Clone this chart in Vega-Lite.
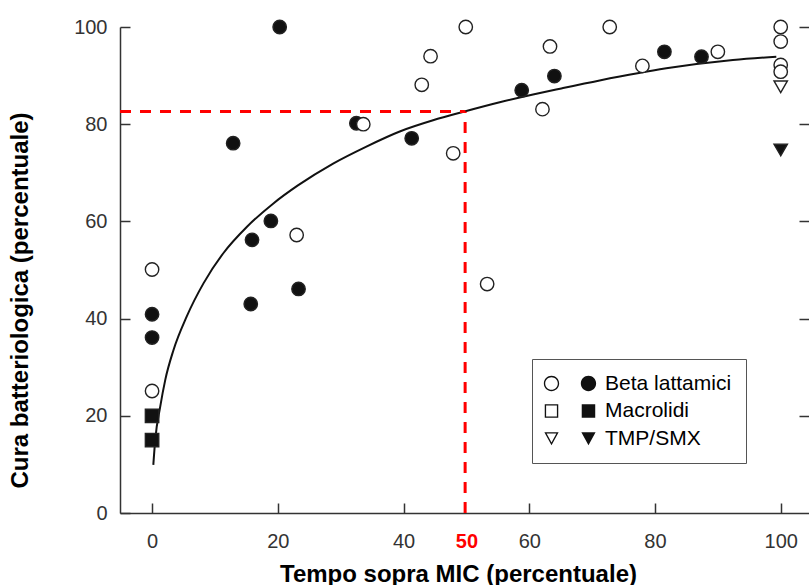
{
  "$schema": "https://vega.github.io/schema/vega-lite/v6.json",
  "width": 689,
  "height": 486,
  "autosize": {"type": "none"},
  "padding": {"left": 120, "top": 27, "right": 0, "bottom": 72},
  "background": "white",
  "config": {"view": {"stroke": null}, "font": "Liberation Sans"},
  "datasets": {
    "curva": [
      {"x": 0.2, "y": 9.9}, {"x": 0.5, "y": 15.0}, {"x": 1.3, "y": 21.9}, {"x": 2.1, "y": 27.4},
      {"x": 3.4, "y": 33.5}, {"x": 5.5, "y": 40.4}, {"x": 8.2, "y": 47.3}, {"x": 11.3, "y": 53.4},
      {"x": 15.1, "y": 58.9}, {"x": 19.3, "y": 63.7}, {"x": 23.2, "y": 67.4}, {"x": 28.8, "y": 71.9},
      {"x": 34.1, "y": 75.4}, {"x": 39.4, "y": 78.5}, {"x": 44.7, "y": 80.8}, {"x": 49.7, "y": 82.6},
      {"x": 55.3, "y": 84.5}, {"x": 60.6, "y": 86.1}, {"x": 64.9, "y": 87.3}, {"x": 71.2, "y": 89.0},
      {"x": 81.8, "y": 91.5}, {"x": 92.4, "y": 93.2}, {"x": 99.3, "y": 93.9}
    ],
    "linee": [
      {"x": -5.1, "x2": 49.8, "y": 82.6, "y2": 82.6},
      {"x": 49.8, "x2": 49.8, "y": 0, "y2": 82.6}
    ],
    "punti": [
      {"x": 0, "y": 40.9, "classe": "Beta lattamici", "tipo": "pieno"},
      {"x": 0, "y": 36.1, "classe": "Beta lattamici", "tipo": "pieno"},
      {"x": 12.9, "y": 76.1, "classe": "Beta lattamici", "tipo": "pieno"},
      {"x": 15.7, "y": 43.0, "classe": "Beta lattamici", "tipo": "pieno"},
      {"x": 15.9, "y": 56.2, "classe": "Beta lattamici", "tipo": "pieno"},
      {"x": 18.9, "y": 60.1, "classe": "Beta lattamici", "tipo": "pieno"},
      {"x": 20.3, "y": 100, "classe": "Beta lattamici", "tipo": "pieno"},
      {"x": 23.3, "y": 46.1, "classe": "Beta lattamici", "tipo": "pieno"},
      {"x": 32.5, "y": 80.2, "classe": "Beta lattamici", "tipo": "pieno"},
      {"x": 41.3, "y": 77.1, "classe": "Beta lattamici", "tipo": "pieno"},
      {"x": 58.8, "y": 87.0, "classe": "Beta lattamici", "tipo": "pieno"},
      {"x": 64.0, "y": 89.9, "classe": "Beta lattamici", "tipo": "pieno"},
      {"x": 81.5, "y": 94.9, "classe": "Beta lattamici", "tipo": "pieno"},
      {"x": 87.4, "y": 93.9, "classe": "Beta lattamici", "tipo": "pieno"},
      {"x": 0, "y": 20.0, "classe": "Macrolidi", "tipo": "pieno"},
      {"x": 0, "y": 15.0, "classe": "Macrolidi", "tipo": "pieno"},
      {"x": 100, "y": 74.7, "classe": "TMP/SMX", "tipo": "pieno"},
      {"x": 0, "y": 50.1, "classe": "Beta lattamici", "tipo": "aperto"},
      {"x": 0, "y": 25.1, "classe": "Beta lattamici", "tipo": "aperto"},
      {"x": 23.0, "y": 57.2, "classe": "Beta lattamici", "tipo": "aperto"},
      {"x": 33.6, "y": 80.0, "classe": "Beta lattamici", "tipo": "aperto"},
      {"x": 42.9, "y": 88.1, "classe": "Beta lattamici", "tipo": "aperto"},
      {"x": 44.3, "y": 94.0, "classe": "Beta lattamici", "tipo": "aperto"},
      {"x": 47.9, "y": 74.0, "classe": "Beta lattamici", "tipo": "aperto"},
      {"x": 49.9, "y": 100, "classe": "Beta lattamici", "tipo": "aperto"},
      {"x": 53.3, "y": 47.1, "classe": "Beta lattamici", "tipo": "aperto"},
      {"x": 62.1, "y": 83.1, "classe": "Beta lattamici", "tipo": "aperto"},
      {"x": 63.3, "y": 96.0, "classe": "Beta lattamici", "tipo": "aperto"},
      {"x": 72.8, "y": 100, "classe": "Beta lattamici", "tipo": "aperto"},
      {"x": 78.0, "y": 92.0, "classe": "Beta lattamici", "tipo": "aperto"},
      {"x": 90.0, "y": 94.9, "classe": "Beta lattamici", "tipo": "aperto"},
      {"x": 100, "y": 100, "classe": "Beta lattamici", "tipo": "aperto"},
      {"x": 100, "y": 97.0, "classe": "Beta lattamici", "tipo": "aperto"},
      {"x": 100, "y": 92.2, "classe": "Beta lattamici", "tipo": "aperto"},
      {"x": 100, "y": 90.8, "classe": "Beta lattamici", "tipo": "aperto"},
      {"x": 100, "y": 87.7, "classe": "TMP/SMX", "tipo": "aperto"}
    ]
  },
  "resolve": {
    "axis": {"y": "independent"},
    "scale": {"shape": "independent"},
    "legend": {"shape": "independent"}
  },
  "layer": [
    {
      "data": {"name": "curva"},
      "mark": {"type": "line", "interpolate": "monotone", "stroke": "#111", "strokeWidth": 2},
      "encoding": {
        "x": {
          "field": "x", "type": "quantitative",
          "scale": {"domain": [-5.1, 104.5], "nice": false, "zero": false},
          "axis": {
            "values": [0, 20, 40, 50, 60, 80, 100],
            "grid": false,
            "domainColor": "#333", "domainWidth": 1.5,
            "tickSize": -10, "tickColor": "#333", "tickWidth": 1.5,
            "tickOpacity": {"condition": {"test": "datum.value === 50", "value": 0}, "value": 1},
            "labelFont": "Liberation Sans", "labelFontSize": 20,
            "labelColor": {"condition": {"test": "datum.value === 50", "value": "#ff0000"}, "value": "#333"},
            "labelFontWeight": {"condition": {"test": "datum.value === 50", "value": "bold"}, "value": "normal"},
            "labelPadding": 28,
            "labelFlush": false,
            "title": "Tempo sopra MIC (percentuale)",
            "titleFont": "Liberation Sans", "titleFontSize": 24, "titleFontWeight": "bold", "titleColor": "#000",
            "titleX": 338, "titleY": 68, "titleAlign": "center", "titleBaseline": "alphabetic"
          }
        },
        "y": {
          "field": "y", "type": "quantitative",
          "scale": {"domain": [0, 100], "nice": false},
          "axis": {
            "orient": "left",
            "values": [0, 20, 40, 60, 80, 100],
            "grid": false,
            "domainColor": "#333", "domainWidth": 1.5,
            "tickSize": -10, "tickColor": "#333", "tickWidth": 1.5,
            "labelFont": "Liberation Sans", "labelFontSize": 20, "labelColor": "#333",
            "labelPadding": 23,
            "labelFlush": false,
            "title": "Cura batteriologica (percentuale)",
            "titleFont": "Liberation Sans", "titleFontSize": 24, "titleFontWeight": "bold", "titleColor": "#000",
            "titleX": -100, "titleY": 273, "titleAngle": -90, "titleAlign": "center", "titleBaseline": "middle"
          }
        }
      }
    },
    {
      "data": {"name": "linee"},
      "mark": {"type": "rule", "stroke": "#ff0000", "strokeWidth": 3, "strokeDash": [11, 9]},
      "encoding": {
        "x": {"field": "x", "type": "quantitative"},
        "x2": {"field": "x2"},
        "y": {
          "field": "y", "type": "quantitative",
          "axis": {
            "orient": "right",
            "values": [20, 40, 60, 80, 100],
            "grid": false, "domain": false, "labels": false, "title": null,
            "tickSize": -10, "tickColor": "#333", "tickWidth": 1.5
          }
        },
        "y2": {"field": "y2"}
      }
    },
    {
      "data": {"name": "punti"},
      "mark": {"type": "point", "size": 180, "strokeWidth": 1.4, "stroke": "#222", "opacity": 1},
      "encoding": {
        "x": {"field": "x", "type": "quantitative"},
        "y": {"field": "y", "type": "quantitative", "axis": null},
        "fill": {
          "field": "tipo", "type": "nominal",
          "scale": {"domain": ["pieno", "aperto"], "range": ["#111", "#ffffff"]},
          "legend": null
        },
        "shape": {
          "field": "classe", "type": "nominal",
          "scale": {"domain": ["Beta lattamici", "Macrolidi", "TMP/SMX"], "range": ["circle", "square", "triangle-down"]},
          "legend": null
        }
      }
    },
    {
      "data": {"name": "punti"},
      "mark": {"type": "point", "filled": true, "color": "#111", "size": 225, "strokeWidth": 0, "opacity": 0},
      "encoding": {
        "x": {"field": "x", "type": "quantitative"},
        "y": {"field": "y", "type": "quantitative", "axis": null},
        "shape": {
          "field": "classe", "type": "nominal",
          "scale": {
            "domain": ["Beta lattamici", "Macrolidi", "TMP/SMX"],
            "range": [
              "M-1.02 0A1.02 1.02 0 1 1 1.02 0A1.02 1.02 0 1 1 -1.02 0ZM-0.84 0A0.84 0.84 0 1 0 0.84 0A0.84 0.84 0 1 0 -0.84 0ZM3.91 0A1.02 1.02 0 1 1 5.95 0A1.02 1.02 0 1 1 3.91 0Z",
              "M-0.9 -0.9L0.9 -0.9L0.9 0.9L-0.9 0.9ZM-0.72 -0.72L-0.72 0.72L0.72 0.72L0.72 -0.72ZM4.03 -0.9L5.83 -0.9L5.83 0.9L4.03 0.9Z",
              "M-0.95 -0.85L0.95 -0.85L0 0.9ZM-0.65 -0.67L0 0.52L0.65 -0.67ZM3.98 -0.85L5.88 -0.85L4.93 0.9Z"
            ]
          },
          "legend": {
            "orient": "none", "legendX": 412, "legendY": 332,
            "title": null,
            "padding": 14,
            "fillColor": "white",
            "strokeColor": "#555",
            "labelFont": "Liberation Sans", "labelFontSize": 21, "labelColor": "#000",
            "labelExpr": "datum.label + '  '",
            "labelOffset": 43,
            "symbolOffset": -5,
            "symbolSize": 225,
            "symbolOpacity": 1,
            "symbolFillColor": "#111",
            "symbolStrokeWidth": 0,
            "rowPadding": 5.5,
            "encode": {
              "legend": {"strokeWidth": {"value": 1.5}}
            }
          }
        }
      }
    }
  ]
}
